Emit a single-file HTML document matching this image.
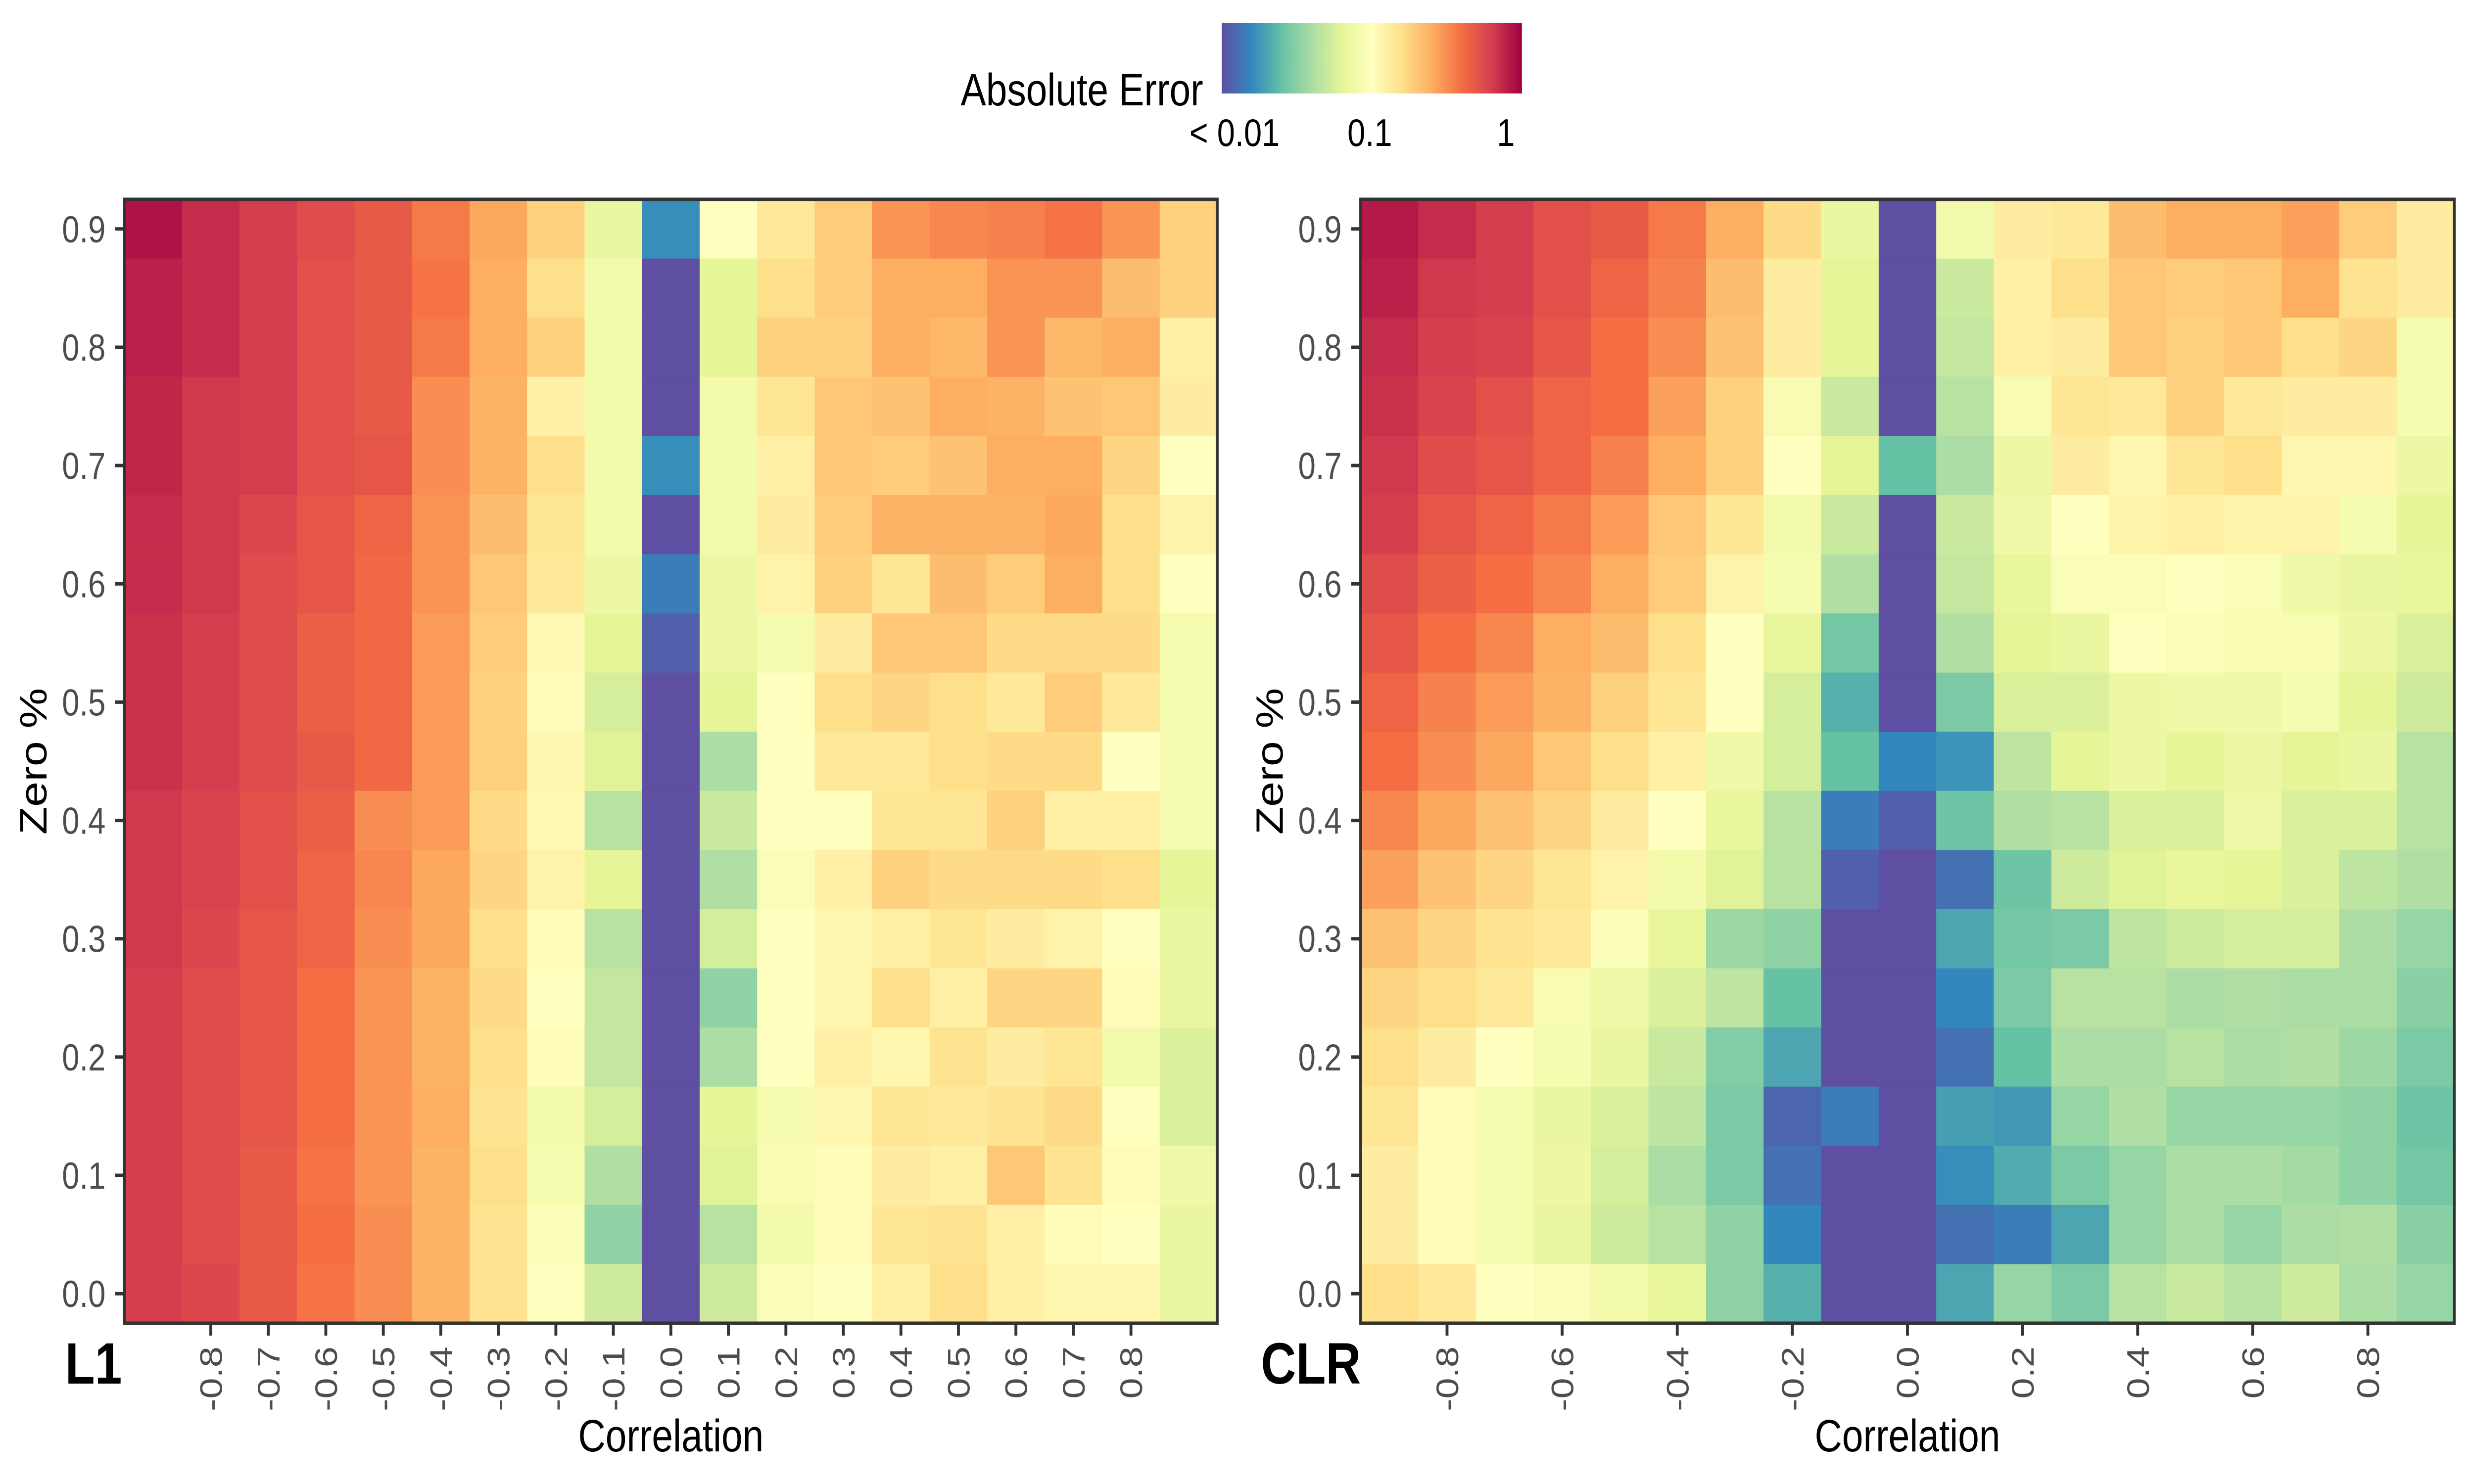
<!DOCTYPE html>
<html><head><meta charset="utf-8">
<style>
html,body{margin:0;padding:0;background:#fff;width:100%;height:100%;overflow:hidden;}
svg{display:block;width:100vw;height:100vh;font-family:"Liberation Sans",Arial,sans-serif;}
</style></head>
<body>
<svg id="chart" viewBox="0 0 6000 3000" preserveAspectRatio="none" xmlns="http://www.w3.org/2000/svg">
<defs>
<linearGradient id="spectral" x1="0" y1="0" x2="1" y2="0">
<stop offset="0" stop-color="#5E4FA2"/><stop offset="0.1" stop-color="#3288BD"/><stop offset="0.2" stop-color="#66C2A5"/><stop offset="0.3" stop-color="#ABDDA4"/><stop offset="0.4" stop-color="#E6F598"/><stop offset="0.5" stop-color="#FFFFBF"/><stop offset="0.6" stop-color="#FEE08B"/><stop offset="0.7" stop-color="#FDAE61"/><stop offset="0.8" stop-color="#F46D43"/><stop offset="0.9" stop-color="#D53E4F"/><stop offset="1" stop-color="#9E0142"/>
</linearGradient>
</defs>
<g>
<text x="2918" y="213" font-size="92" text-anchor="end" fill="#000">Absolute Error</text>
<rect x="2963" y="46" width="728" height="143" fill="url(#spectral)"/>
<text x="2994" y="295" font-size="78" text-anchor="middle" fill="#000">&lt; 0.01</text>
<text x="3322" y="295" font-size="78" text-anchor="middle" fill="#000">0.1</text>
<text x="3652" y="295" font-size="78" text-anchor="middle" fill="#000">1</text>
</g>
<g id="panels"></g>
</svg>
<script>
// Values: log-scale position of absolute error on the colour bar (0 = 0.01, 5 = 0.1, 10 = 1)
// Rows listed from Zero % = 0.9 (top) down to 0.0 (bottom); columns correlation -0.9 .. 0.9
const correlations = [-0.9,-0.8,-0.7,-0.6,-0.5,-0.4,-0.3,-0.2,-0.1,0.0,0.1,0.2,0.3,0.4,0.5,0.6,0.7,0.8,0.9];
const zeroPct = [0.9,0.85,0.8,0.75,0.7,0.65,0.6,0.55,0.5,0.45,0.4,0.35,0.3,0.25,0.2,0.15,0.1,0.05,0.0];
const yTickLabels = ["0.0","0.1","0.2","0.3","0.4","0.5","0.6","0.7","0.8","0.9"];
const l1XTickLabels = ["-0.8","-0.7","-0.6","-0.5","-0.4","-0.3","-0.2","-0.1","0.0","0.1","0.2","0.3","0.4","0.5","0.6","0.7","0.8"];
const clrXTickLabels = ["-0.8","-0.6","-0.4","-0.2","0.0","0.2","0.4","0.6","0.8"];
const l1Errors = [
[9.7,9.3,9.0,8.7,8.4,7.8,7.1,6.3,4.2,1.1,5.0,5.7,6.4,7.4,7.6,7.7,7.9,7.4,6.3],
[9.5,9.3,9.0,8.6,8.4,7.9,7.0,6.0,4.5,0,4.0,6.0,6.4,7.0,7.0,7.4,7.4,6.7,6.3],
[9.5,9.3,9.0,8.6,8.4,7.8,7.0,6.3,4.5,0,4.0,6.3,6.3,7.0,6.8,7.4,6.8,7.0,5.5],
[9.4,9.1,9.0,8.6,8.4,7.5,6.9,5.5,4.5,0,4.5,5.8,6.5,6.6,7.0,6.9,6.6,6.5,5.6],
[9.4,9.1,9.0,8.6,8.5,7.5,6.9,6.0,4.5,1.1,4.5,5.5,6.5,6.4,6.6,7.0,7.0,6.2,5.0],
[9.3,9.1,8.8,8.5,8.2,7.4,6.7,5.8,4.5,0,4.5,5.6,6.4,6.9,6.9,6.9,7.1,6.0,5.4],
[9.3,9.1,8.7,8.5,8.1,7.4,6.5,5.7,4.3,0.8,4.3,5.4,6.3,5.8,6.7,6.4,7.0,6.0,5.0],
[9.2,9.0,8.7,8.3,8.1,7.3,6.4,5.2,4.0,0.3,4.3,4.6,5.6,6.5,6.5,6.1,6.1,6.1,4.6],
[9.2,9.0,8.7,8.3,8.1,7.3,6.3,5.1,3.7,0,4.0,5.0,6.0,6.2,6.0,5.7,6.4,5.7,4.6],
[9.2,9.0,8.7,8.4,8.1,7.3,6.3,5.3,3.9,0,3.0,5.0,5.7,5.7,6.0,6.1,6.1,5.0,4.6],
[9.1,8.9,8.6,8.3,7.5,7.3,6.1,5.2,3.2,0,3.5,5.0,5.0,5.8,5.8,6.3,5.5,5.5,4.6],
[9.1,8.9,8.6,8.2,7.6,7.1,6.2,5.4,4.0,0,3.1,4.8,5.5,6.3,6.1,6.1,6.1,6.0,4.0],
[9.1,8.8,8.5,8.2,7.5,7.1,6.0,5.1,3.2,0,3.7,5.0,5.3,5.5,5.8,5.6,5.4,5.0,4.2],
[9.0,8.7,8.5,8.0,7.4,6.9,6.1,5.0,3.4,0,2.6,5.0,5.3,6.0,5.5,6.2,6.2,5.1,4.2],
[9.0,8.7,8.5,8.0,7.4,6.9,6.0,5.1,3.4,0,3.0,5.0,5.5,5.3,5.9,5.6,5.8,4.5,3.8],
[9.0,8.7,8.5,8.0,7.4,7.0,5.9,4.5,3.7,0,4.0,4.6,5.3,5.8,5.7,5.9,6.1,5.0,3.8],
[9.0,8.7,8.4,7.9,7.4,6.9,6.0,4.6,3.1,0,3.9,4.7,5.1,5.6,5.5,6.5,5.9,5.1,4.4],
[9.0,8.7,8.4,8.0,7.5,6.9,5.9,4.8,2.6,0,3.2,4.5,5.1,5.8,5.9,5.5,5.1,5.0,4.2],
[9.0,8.8,8.4,7.9,7.5,6.9,5.9,5.0,3.6,0,3.6,4.8,5.0,5.5,6.0,5.5,5.3,5.3,4.2]
];
const clrErrors = [
[9.6,9.3,9.0,8.6,8.4,7.8,7.0,6.1,4.2,0,4.5,5.6,5.7,6.7,7.0,7.0,7.2,6.4,5.6],
[9.5,9.1,9.0,8.6,8.2,7.7,6.7,5.6,4.0,0,3.5,5.5,6.0,6.5,6.4,6.5,7.0,5.9,5.6],
[9.3,9.0,8.9,8.5,8.0,7.5,6.6,5.6,4.0,0,3.4,5.5,5.6,6.5,6.3,6.5,6.0,6.2,4.6],
[9.2,8.9,8.6,8.2,8.0,7.2,6.3,4.7,3.5,0,3.2,4.7,5.8,5.7,6.3,5.7,5.6,5.6,4.6],
[9.1,8.7,8.5,8.2,7.7,7.0,6.3,5.0,4.0,2.0,3.0,4.3,5.6,5.3,5.8,6.0,5.3,5.3,4.3],
[9.0,8.5,8.2,7.8,7.3,6.5,5.8,4.5,3.5,0,3.5,4.4,5.0,5.4,5.5,5.4,5.4,4.6,4.0],
[8.7,8.3,8.0,7.6,7.0,6.4,5.4,4.6,3.1,0,3.4,4.1,4.8,4.8,5.0,4.8,4.4,4.2,4.1],
[8.5,8.0,7.6,7.0,6.7,6.0,5.0,4.1,2.2,0,3.1,4.0,4.2,5.0,4.8,4.7,4.7,4.3,3.8],
[8.2,7.7,7.3,6.9,6.3,5.8,5.0,3.7,1.7,0,2.3,3.8,3.8,4.3,4.4,4.4,4.6,4.0,3.6],
[8.0,7.5,7.1,6.5,6.0,5.5,4.4,3.7,2.0,1.0,1.2,3.3,4.0,4.3,4.0,4.3,4.0,4.2,3.2],
[7.6,7.1,6.6,6.2,5.6,5.0,4.1,3.2,0.8,0.3,2.1,3.1,3.2,3.8,3.8,4.4,3.8,3.8,3.2],
[7.2,6.6,6.2,5.8,5.4,4.5,3.9,3.2,0.3,0,0.6,2.1,3.6,3.9,4.1,4.0,3.8,3.3,3.1],
[6.6,6.2,5.9,5.7,4.8,4.1,2.8,2.6,0,0,1.5,2.2,2.3,3.3,3.6,3.7,3.7,3.0,2.7],
[6.2,6.0,5.7,4.7,4.4,3.8,3.3,2.0,0,0,1.0,2.3,3.2,3.2,3.0,3.1,3.0,3.0,2.5],
[6.0,5.6,5.0,4.6,4.2,3.5,2.4,1.5,0,0,0.6,2.0,3.0,3.0,3.2,3.0,3.1,2.8,2.3],
[5.8,5.1,4.6,4.2,3.8,3.3,2.3,0.4,0.8,0,1.4,1.3,2.7,3.1,2.7,2.7,2.7,2.6,2.1],
[5.6,5.1,4.6,4.3,3.7,3.0,2.3,0.6,0,0,1.1,1.6,2.3,2.7,3.0,3.0,2.9,2.6,2.2],
[5.6,5.1,4.6,4.2,3.6,3.2,2.6,1.0,0,0,0.6,0.8,1.5,2.7,3.0,2.7,3.0,3.1,2.5],
[6.0,5.7,5.0,4.8,4.5,4.1,2.6,1.7,0,0,1.5,2.7,2.3,3.2,3.5,3.2,3.6,3.0,2.7]
];

const NS = "http://www.w3.org/2000/svg";
const palette = ["#5E4FA2","#3288BD","#66C2A5","#ABDDA4","#E6F598","#FFFFBF","#FEE08B","#FDAE61","#F46D43","#D53E4F","#9E0142"];
function hex2rgb(h){return [parseInt(h.substr(1,2),16),parseInt(h.substr(3,2),16),parseInt(h.substr(5,2),16)];}
function colorFor(v){
  let t = Math.max(0, Math.min(10, v));
  let i = Math.min(9, Math.floor(t)); let f = t - i;
  const a = hex2rgb(palette[i]), b = hex2rgb(palette[i+1]);
  return "rgb(" + a.map((c,k)=>Math.round(c+(b[k]-c)*f)).join(",") + ")";
}
function mk(tag, attrs, parent){
  const e = document.createElementNS(NS, tag);
  for (const k in attrs) e.setAttribute(k, attrs[k]);
  parent.appendChild(e); return e;
}
const root = document.getElementById("panels");

function drawPanel(cfg){
  const g = mk("g", {}, root);
  
  
  const x0 = cfg.x0, y0 = 403, w = cfg.w, h = 2272;
  const cmin = correlations[0], cmax = correlations[correlations.length-1];
  const step = (cmax - cmin) / (correlations.length - 1);
  const cw = w / correlations.length;
  const ystep = zeroPct[0] - zeroPct[1];
  const ch = h / zeroPct.length;
  const xScale = c => x0 + ((c - cmin) / step + 0.5) * cw;
  const zmax = Math.max(...zeroPct);
  const yScale = z => y0 + ((zmax - z) / ystep + 0.5) * ch;
  cfg.data.forEach((row, ri) => {
    row.forEach((v, ci) => {
      const cx = xScale(correlations[ci]), cy = yScale(zeroPct[ri]);
      const r = mk("rect", {x:(cx - cw/2).toFixed(2), y:(cy - ch/2).toFixed(2), width:(cw+0.8).toFixed(2), height:(ch+0.8).toFixed(2), fill:colorFor(v)}, g);
      
      
    });
  });
  const border = mk("rect", {x:x0, y:y0, width:w, height:h, fill:"none", stroke:"#333333", "stroke-width":7}, g);
  
  
  yTickLabels.forEach(lab => {
    const y = yScale(parseFloat(lab));
    const t = mk("line", {x1:x0-23, x2:x0, y1:y, y2:y, stroke:"#333333", "stroke-width":7}, g);
    
    
    const tx = mk("text", {x:x0-46, y:y+27, "font-size":76, "text-anchor":"end", fill:"#4D4D4D"}, g);
    
    
    tx.textContent = lab;
  });
  cfg.xLabels.forEach(lab => {
    const x = xScale(parseFloat(lab));
    const t = mk("line", {x1:x, x2:x, y1:y0+h, y2:y0+h+25, stroke:"#333333", "stroke-width":7}, g);
    
    
    const tx = mk("text", {x:0, y:0, "font-size":76, "text-anchor":"end", fill:"#4D4D4D", transform:"translate(" + (x+27).toFixed(1) + ",2722) rotate(-90)"}, g);
    
    
    tx.textContent = lab;
  });
  const xt = mk("text", {x:x0 + w/2, y:2934, "font-size":92, "text-anchor":"middle", fill:"#000"}, g);
  
  
  xt.textContent = "Correlation";
  const yt = mk("text", {x:0, y:0, "font-size":92, "text-anchor":"middle", fill:"#000", transform:"translate(" + (x0-189) + "," + (y0 + h/2) + ") rotate(-90)"}, g);
  
  
  yt.textContent = "Zero %";
  const tag = mk("text", {x:cfg.tagX, y:2797, "font-size":118, "font-weight":"bold", fill:"#000"}, g);
  
  
  tag.textContent = cfg.tag;
}
drawPanel({name:"l1", x0:302, w:2650, data:l1Errors, xLabels:l1XTickLabels, tag:"L1", tagX:158});
drawPanel({name:"clr", x0:3300, w:2652, data:clrErrors, xLabels:clrXTickLabels, tag:"CLR", tagX:3058});
</script>
</body></html>
